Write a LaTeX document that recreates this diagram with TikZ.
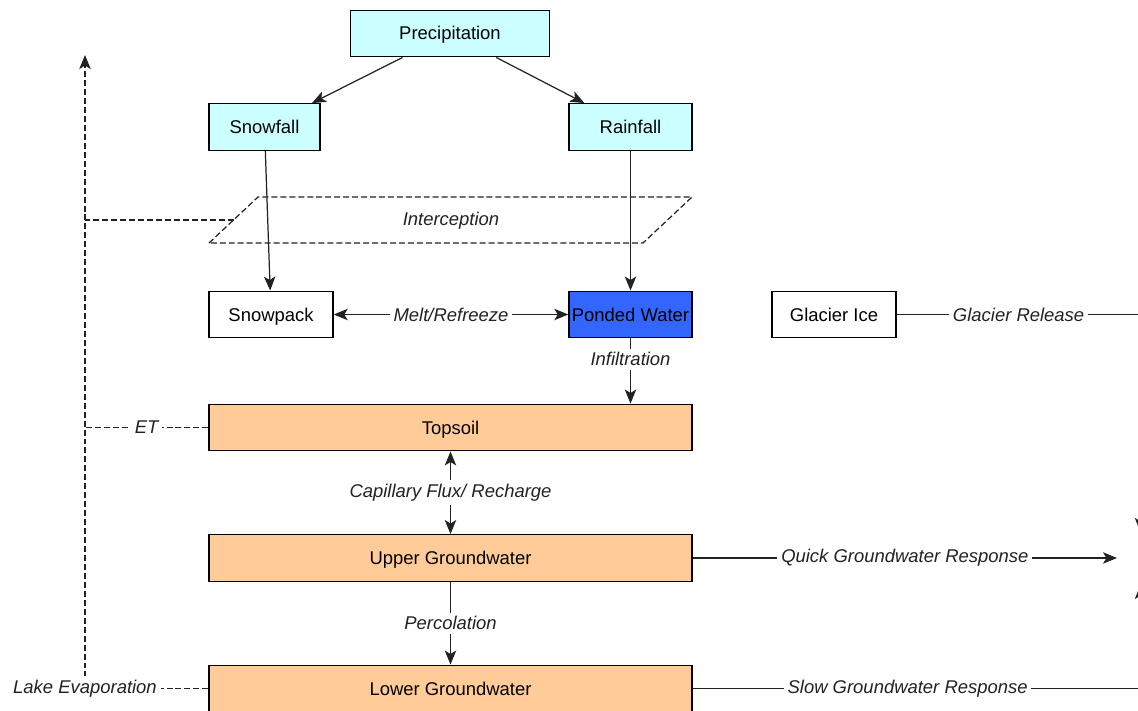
\documentclass[tikz,border=0pt]{standalone}
\usepackage{fontspec}
\setmainfont{Liberation Sans}
\usetikzlibrary{arrows.meta}

\definecolor{skyfill}{HTML}{CCFFFF}
\definecolor{pondfill}{HTML}{3366FF}
\definecolor{soilfill}{HTML}{FFCC99}
\definecolor{edgegray}{HTML}{222222}

\tikzset{
    box/.style={draw, line width=0.8pt, minimum height=0.93cm, inner sep=0pt,
        text height=1.55ex, text depth=0.15ex,
        font=\fontsize{10.5}{12}\selectfont},
    lbl/.style={fill=white, inner sep=2.2pt, text=edgegray,
        font=\fontsize{10.5}{12}\selectfont\itshape},
    flow/.style={line width=0.7pt, draw=edgegray},
    dashline/.style={flow, dash pattern=on 3.4pt off 1.7pt},
    >={Stealth[length=8pt, width=6.5pt, inset=2pt]}
}

\begin{document}
\begin{tikzpicture}[x=0.02cm, y=-0.02cm]
    \useasboundingbox (0, 0) rectangle (1138, 710);
    \clip (0, 0) rectangle (1138, 710);

    % Draw the precipitation boxes
    \node[box, fill=skyfill, minimum width=3.98cm] (precip) at (450, 33.5) {Precipitation};
    \node[box, fill=skyfill, minimum width=2.22cm] (snowfall) at (264.5, 127) {Snowfall};
    \node[box, fill=skyfill, minimum width=2.46cm] (rainfall) at (630.5, 127) {Rainfall};

    % Draw the interception layer
    \coordinate (intbl) at (209, 243);
    \coordinate (inttl) at (258, 197);
    \coordinate (inttr) at (692, 197);
    \coordinate (intbr) at (643, 243);
    \coordinate (intleft) at (233.5, 220);
    \draw[dashline] (intbl) -- (inttl) -- (inttr) -- (intbr) -- cycle;
    \node[font=\fontsize{10.5}{12}\selectfont\itshape, text=edgegray] (intercept) at (451, 221) {Interception};

    % Draw the surface stores
    \node[box, minimum width=2.48cm] (snowpack) at (271, 314.5) {Snowpack};
    \node[box, fill=pondfill, minimum width=2.46cm] (ponded) at (630.5, 314.5) {Ponded Water};
    \node[box, minimum width=2.48cm] (glacier) at (834, 314.5) {Glacier Ice};

    % Draw the soil and groundwater stores
    \node[box, fill=soilfill, minimum width=9.66cm] (topsoil) at (450.5, 427.5) {Topsoil};
    \node[box, fill=soilfill, minimum width=9.66cm] (upper) at (450.5, 558) {Upper Groundwater};
    \node[box, fill=soilfill, minimum width=9.66cm] (lower) at (450.5, 688.5) {Lower Groundwater};

    % Add the free ends of the connectors
    \coordinate (evaptop) at (85, 55);
    \coordinate (intcorner) at (85, 220);
    \coordinate (etcorner) at (85, 427.5);
    \coordinate (lakecorner) at (85, 688.5);
    \coordinate (glaciercorner) at (1140.5, 314.5);
    \coordinate (glacierend) at (1140.5, 532);
    \coordinate (quickend) at (1117, 558);
    \coordinate (slowcorner) at (1140.5, 688.5);
    \coordinate (slowend) at (1140.5, 585);

    % Add the flows
    \draw[flow, ->] (precip) -- (snowfall);
    \draw[flow, ->] (precip) -- (rainfall);
    \draw[flow, ->] (snowfall) -- (snowpack);
    \draw[flow, ->] (rainfall) -- (ponded);
    \draw[flow, <->] (snowpack) -- node[lbl] {Melt/Refreeze} (ponded);
    \draw[flow, ->] (ponded.south) -- node[lbl, pos=0.32] {Infiltration} (ponded.south |- topsoil.north);
    \draw[flow, <->] (topsoil) -- node[lbl] {Capillary Flux/ Recharge} (upper);
    \draw[flow, ->] (upper) -- node[lbl] {Percolation} (lower);
    \draw[flow, ->] (glacier) -- node[lbl] {Glacier Release} (glaciercorner) -- (glacierend);
    \draw[flow, ->] (upper) -- node[lbl] {Quick Groundwater Response} (quickend);
    \draw[flow, ->] (lower) -- node[lbl, pos=0.48] {Slow Groundwater Response} (slowcorner) -- (slowend);

    % Add the evaporation losses
    \draw[dashline] (intleft) -- (intcorner);
    \draw[dashline] (topsoil) -- node[lbl] {ET} (etcorner);
    \draw[dashline, ->] (lower) -- (lakecorner) node[lbl] {Lake Evaporation} -- (evaptop);
\end{tikzpicture}
\end{document}
